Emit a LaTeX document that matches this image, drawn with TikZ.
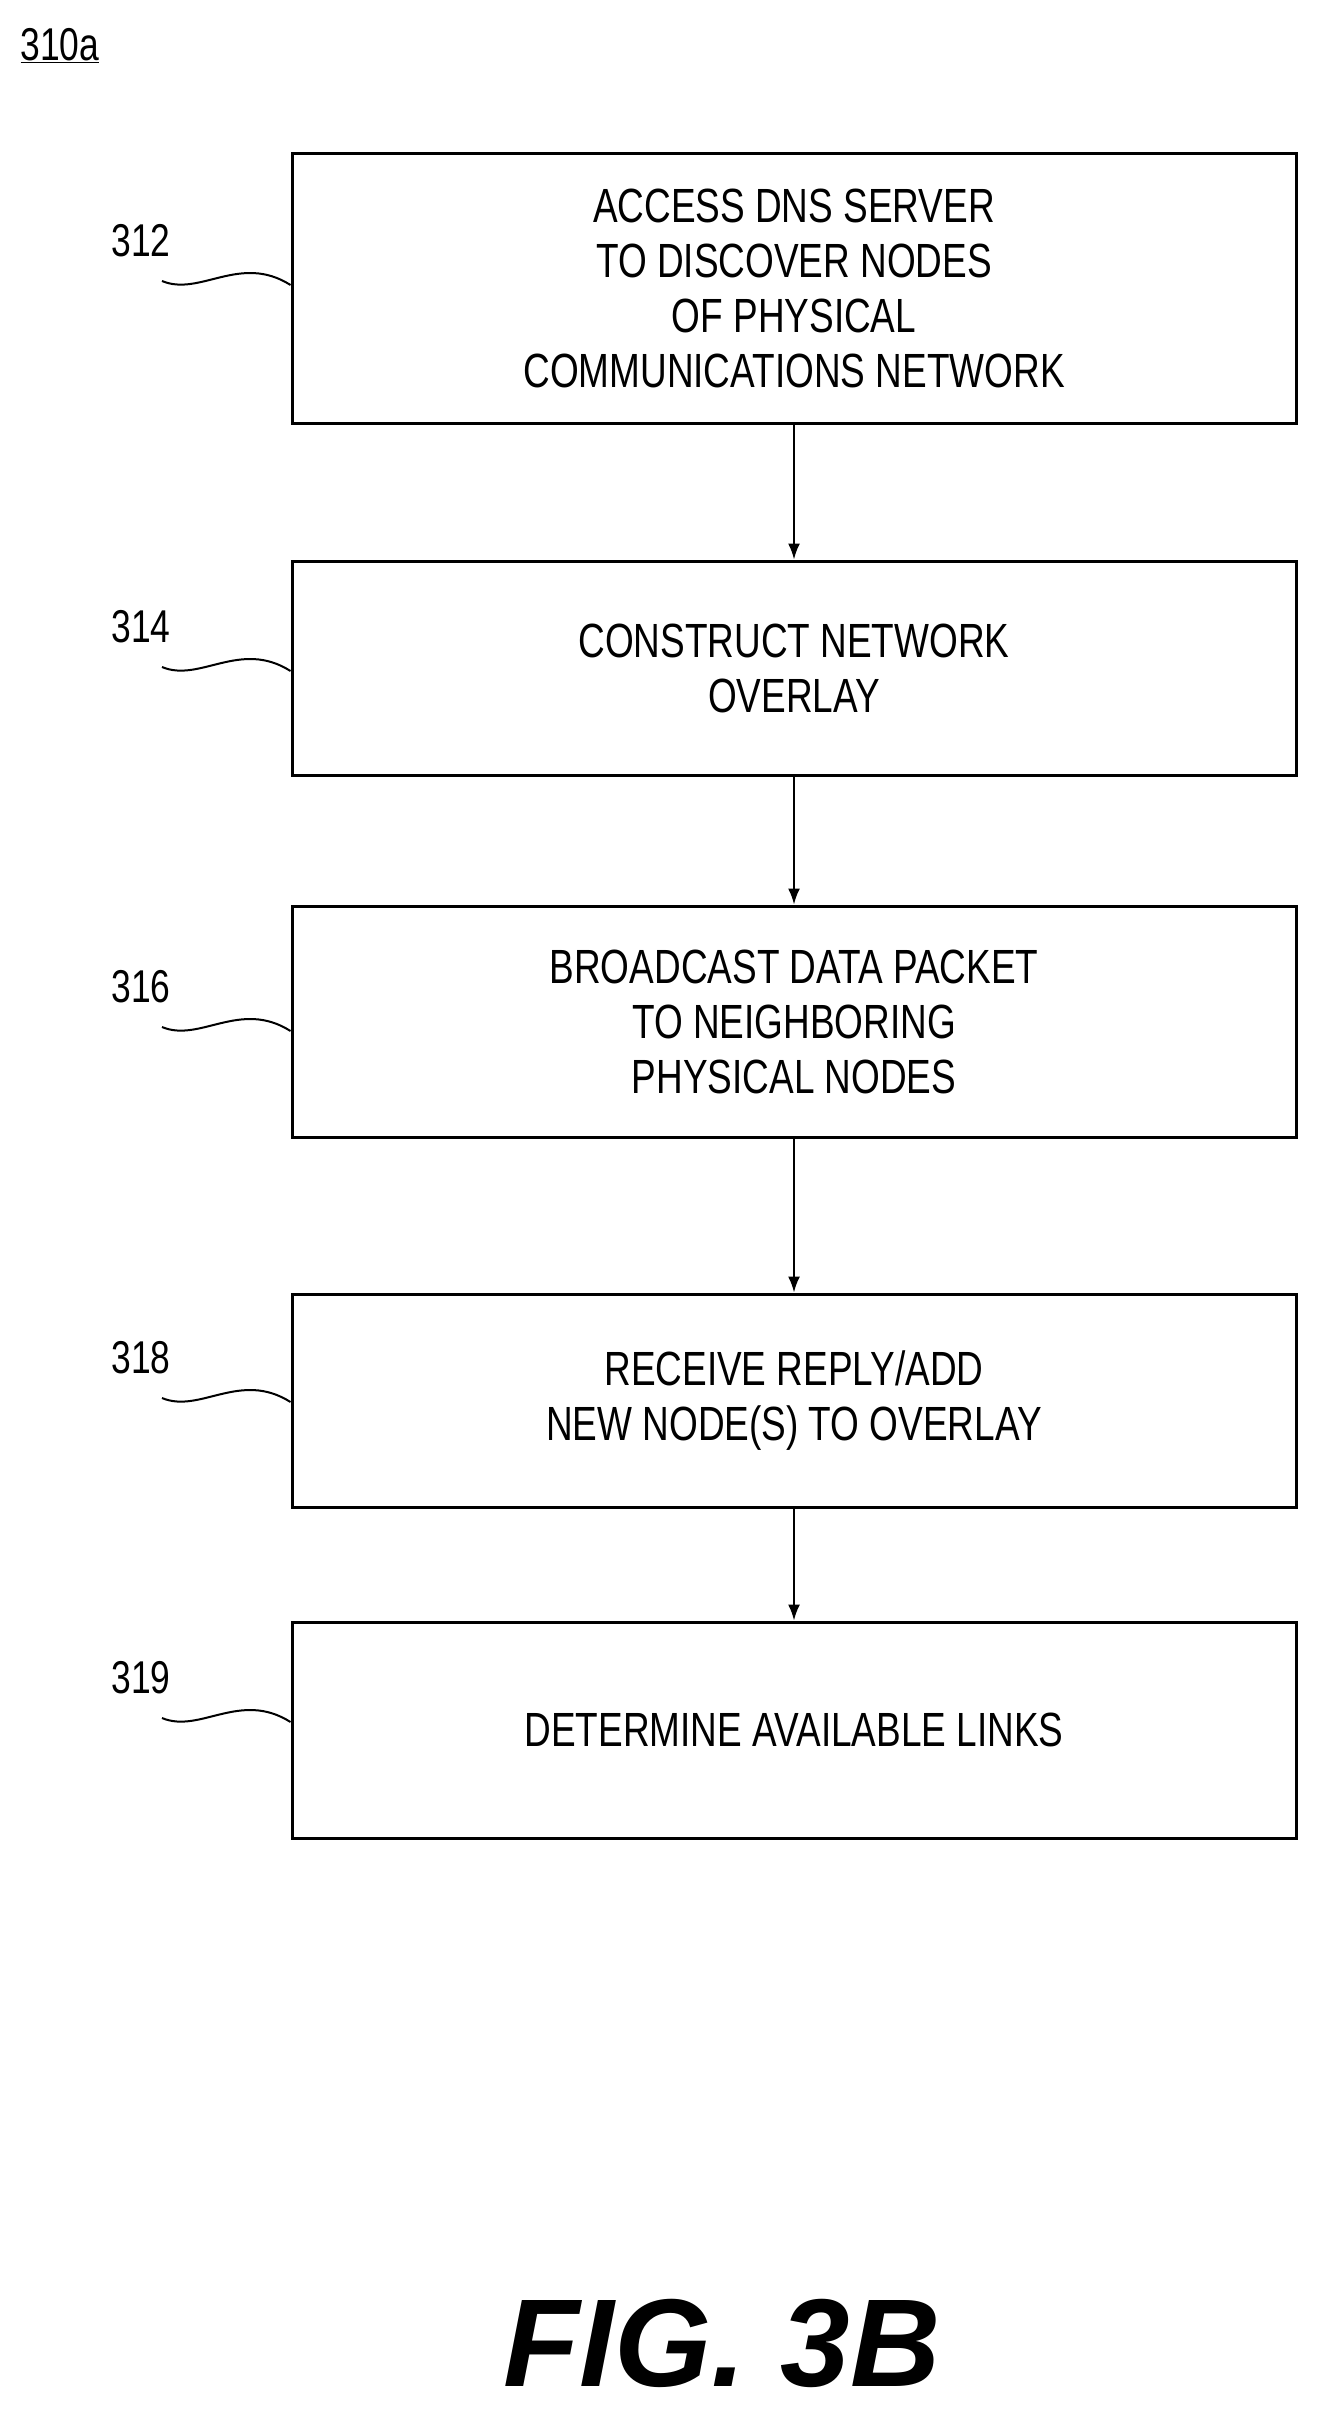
\documentclass[tikz,border=0pt]{standalone}
\usepackage{fontspec}
\setmainfont{Liberation Sans}
\newfontfamily\nar[FakeStretch=0.77]{Liberation Sans}
\usetikzlibrary{arrows.meta}
\begin{document}
\begin{tikzpicture}[x=1pt,y=-1pt,
  box/.style={draw,line width=3pt,minimum width=1004pt,align=center,inner sep=0pt,
    font=\nar\fontsize{48}{55}\selectfont},
  lab/.style={font=\nar\fontsize{46}{50}\selectfont,inner sep=0pt},
  arr/.style={line width=2pt,-{Latex[length=16pt,width=12pt]}},
  sq/.style={line width=2pt}]
\useasboundingbox (0,0) rectangle (1320,2427);
\node[box,minimum height=269pt] (b1) at (794,288.5) {ACCESS DNS SERVER\\TO DISCOVER NODES\\OF PHYSICAL\\COMMUNICATIONS NETWORK};
\node[box,minimum height=214pt] (b2) at (794,668) {CONSTRUCT NETWORK\\OVERLAY};
\node[box,minimum height=231pt] (b3) at (794,1021.5) {BROADCAST DATA PACKET\\TO NEIGHBORING\\PHYSICAL NODES};
\node[box,minimum height=213pt] (b4) at (794,1400.5) {RECEIVE REPLY/ADD\\NEW NODE(S) TO OVERLAY};
\node[box,minimum height=216pt] (b5) at (794,1730) {DETERMINE AVAILABLE LINKS};
\draw[arr] (b1) -- (b2);
\draw[arr] (b2) -- (b3);
\draw[arr] (b3) -- (b4);
\draw[arr] (b4) -- (b5);
\node[lab] (l0) at (60,46) {\underline{310a}};
\foreach \n/\t/\y in {1/312/241,2/314/627,3/316/987,4/318/1358,5/319/1678}{
  \node[lab] (l\n) at (141,\y) {\t};
  \coordinate (s\n) at (162,\y+40);
  \draw[sq] (s\n) .. controls (200,\y+56) and (240,\y+12) .. (b\n.west |- 0,\y+44);
}
\node[font=\bfseries\itshape\fontsize{125}{130}\selectfont] (fig) at (722,2343) {FIG. 3B};
\end{tikzpicture}
\end{document}
